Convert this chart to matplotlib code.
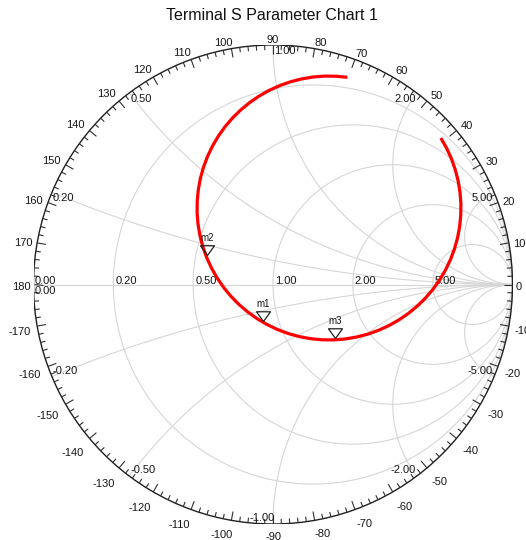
import numpy as np
import matplotlib.pyplot as plt
from matplotlib.collections import LineCollection
from matplotlib.patches import Circle
from matplotlib.path import Path

plt.rcParams['font.family'] = ['Liberation Sans', 'DejaVu Sans']

# S11 trace (reflection coefficient, real / imaginary parts)
s11_re = [0.3105, 0.2626, 0.2146, 0.1666, 0.1192, 0.0727, 0.0274, -0.0164,
          -0.0582, -0.0978, -0.1349, -0.1692, -0.2004, -0.2283, -0.2527, -0.2734,
          -0.2903, -0.3031, -0.3119, -0.3164, -0.3169, -0.3131, -0.3051, -0.2931,
          -0.2771, -0.2571, -0.2334, -0.2062, -0.1756, -0.1420, -0.1054, -0.0663,
          -0.0249, 0.0185, 0.0635, 0.1098, 0.1571, 0.2050, 0.2530, 0.3010,
          0.3484, 0.3949, 0.4402, 0.4840, 0.5258, 0.5654, 0.6025, 0.6368,
          0.6680, 0.6959, 0.7203, 0.7410, 0.7579, 0.7707, 0.7795, 0.7840,
          0.7845, 0.7807, 0.7727, 0.7607, 0.7447, 0.7247, 0.7010]
s11_im = [0.8651, 0.8696, 0.8701, 0.8663, 0.8583, 0.8463, 0.8303, 0.8103,
          0.7866, 0.7594, 0.7288, 0.6952, 0.6586, 0.6195, 0.5781, 0.5347,
          0.4897, 0.4434, 0.3961, 0.3482, 0.3002, 0.2522, 0.2048, 0.1583,
          0.1130, 0.0692, 0.0274, -0.0122, -0.0493, -0.0836, -0.1148, -0.1427,
          -0.1671, -0.1878, -0.2047, -0.2175, -0.2263, -0.2308, -0.2313, -0.2275,
          -0.2195, -0.2075, -0.1915, -0.1715, -0.1478, -0.1206, -0.0900, -0.0564,
          -0.0198, 0.0193, 0.0607, 0.1041, 0.1491, 0.1954, 0.2427, 0.2906,
          0.3386, 0.3866, 0.4340, 0.4805, 0.5258, 0.5696, 0.6114]

# markers on the trace
marker_names = ['m1', 'm2', 'm3']
marker_re = [-0.043, -0.277, 0.259]
marker_im = [-0.154, 0.123, -0.225]

# grid values
r_values = [0.2, 0.5, 1.0, 2.0, 5.0]
x_values = [0.2, 0.5, 1.0, 2.0, 5.0]
r_labels = ['0.20', '0.50', '1.00', '2.00', '5.00']
x_labels = ['0.20', '0.50', '1.00', '2.00', '5.00']
angle_ticks = list(range(-170, 190, 10))

W, H = 526, 540
R_PX = 239.5            # chart radius in pixels
CX, CY = 273.0, 284.5   # chart centre in pixels (from top-left)

fig = plt.figure(figsize=(W / 100, H / 100), dpi=100)
ax = fig.add_axes([(CX - R_PX) / W, (H - CY - R_PX) / H, 2 * R_PX / W, 2 * R_PX / H])
ax.set_xlim(-1, 1)
ax.set_ylim(-1, 1)
ax.axis('off')

px = 1.0 / R_PX   # one pixel in data units
grid_col = '#d6d6d6'
text_col = '#161616'

# constant resistance circles
for r in r_values:
    ax.add_patch(Circle((r / (1 + r), 0), 1 / (1 + r), fill=False,
                        ec=grid_col, lw=0.8, zorder=1))

# constant reactance arcs
rr = np.concatenate([[0], np.geomspace(1e-4, 1e5, 600)])
for x in x_values:
    for sgn in (1, -1):
        z = rr + 1j * sgn * x
        g = (z - 1) / (z + 1)
        ax.plot(g.real, g.imag, color=grid_col, lw=0.8, zorder=1)
ax.plot([-1, 1], [0, 0], color=grid_col, lw=0.8, zorder=1)

# outer circle with angle ticks
ax.add_patch(Circle((0, 0), 1, fill=False, ec='#202020', lw=1.0, zorder=3))
segs = []
for deg in range(-178, 182, 2):
    t = np.radians(deg)
    ln = 9 * px if deg % 10 == 0 else 5 * px
    segs.append([(np.cos(t), np.sin(t)), ((1 - ln) * np.cos(t), (1 - ln) * np.sin(t))])
ax.add_collection(LineCollection(segs, colors='#303030', lw=0.8, zorder=3))

# angle labels outside the rim
fs = 8
digit_w = 6.2
cap_h = 8.0
for deg in angle_ticks:
    lab = str(deg)
    w = sum(6.5 if ch == '-' else digit_w for ch in lab)
    t = np.radians(deg)
    c, s = np.cos(t), np.sin(t)
    d = 3 + 0.5 * w * abs(c) + 0.5 * cap_h * abs(s)
    rad = 1 + d * px
    shift_x = np.sign(c) * 0.35 * w * abs(s) if abs(c) > 0.01 else 0.0
    shift_y = -1.5 - (3 * abs(s) if s < 0 else 0)
    ax.text(rad * c + shift_x * px, rad * s + (shift_y - 0.5 * cap_h) * px, lab,
            fontsize=fs, color=text_col, ha='center', va='baseline', zorder=4)

# resistance labels along the real axis
for r, lab in zip(r_values, r_labels):
    g = (r - 1) / (r + 1)
    ax.text(g + 2 * px, 1 * px, lab, fontsize=fs, color=text_col,
            ha='left', va='baseline', zorder=4)
ax.text(-1 + 1 * px, 1 * px, '0.00', fontsize=fs, color=text_col,
        ha='left', va='baseline', zorder=4)
ax.text(-1 + 1 * px, -1 * px, '0.00', fontsize=fs, color=text_col,
        ha='left', va='top', zorder=4)

# reactance labels at the rim
for x, lab in zip(x_values, x_labels):
    gre = (x * x - 1) / (x * x + 1)
    gim = 2 * x / (x * x + 1)
    ha = 'left' if x <= 1.0 else 'right'
    dx = 1 * px if ha == 'left' else -1 * px
    ax.text(gre + dx, gim - 1 * px, lab, fontsize=fs, color=text_col,
            ha=ha, va='top', zorder=4)
    ha_n = 'left' if x < 1.0 else 'right'
    dx = 1 * px if ha_n == 'left' else -1 * px
    if x == 1.0:
        dx = 2 * px
    ax.text(gre + dx, -gim + 1 * px, '-' + lab, fontsize=fs, color=text_col,
            ha=ha_n, va='bottom', zorder=4)

# trace
ax.plot(s11_re, s11_im, color='#ff0000', lw=2.3, solid_capstyle='butt',
        solid_joinstyle='round', zorder=5)

# down-pointing triangle with its tip at the marker point
tri = Path([(0, 0), (-0.72, 1.0), (0.72, 1.0), (0, 0)],
           [Path.MOVETO, Path.LINETO, Path.LINETO, Path.CLOSEPOLY])
for name, mre, mim in zip(marker_names, marker_re, marker_im):
    ax.plot(mre, mim, marker=tri, ms=14, mfc='none', mec='#202020', mew=0.9,
            ls='none', zorder=6)
    ax.annotate(name, (mre, mim), xytext=(0, 8.6), textcoords='offset points',
                fontsize=7, color=text_col, ha='center', va='bottom', zorder=6)

fig.text(271.5 / W, 1 - 16 / H, 'Terminal S Parameter Chart 1', fontsize=11.5,
         color='#111111', ha='center', va='center')

fig.savefig('out.png', dpi=100, facecolor='white')
